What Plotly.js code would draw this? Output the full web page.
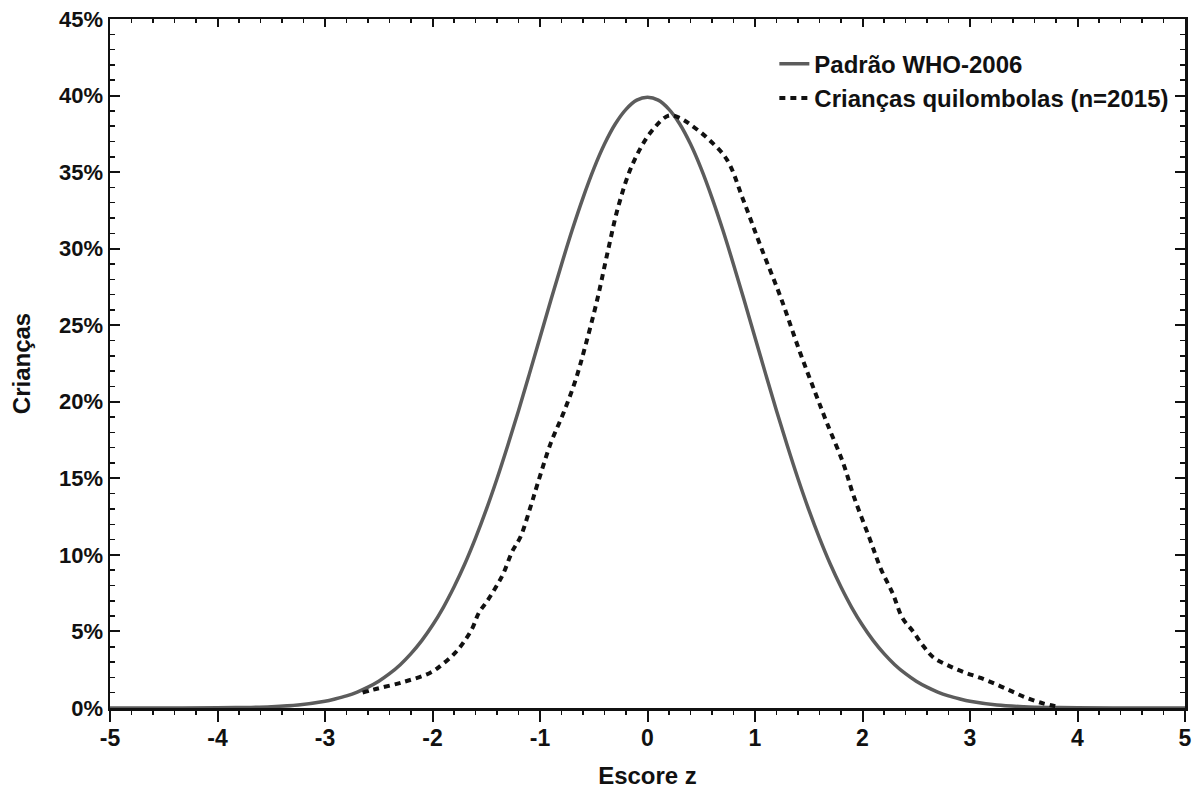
<!DOCTYPE html>
<html>
<head>
<meta charset="utf-8">
<script src="https://cdn.plot.ly/plotly-3.0.1.min.js"></script>
<style>html,body{margin:0;padding:0;background:#fff;}#chart{width:1195px;height:794px;}</style>
</head>
<body>
<div id="chart"></div>
<script>
// WHO-2006 standard curve (z-score vs % of children)
var whoZ = [-5,-4.5,-4,-3.75,-3.5,-3.25,-3,-2.9,-2.8,-2.7,-2.6,-2.5,-2.4,-2.3,-2.2,-2.1,-2,-1.9,-1.8,-1.7,-1.6,-1.5,-1.4,-1.3,-1.2,-1.1,-1,-0.9,-0.8,-0.7,-0.6,-0.5,-0.4,-0.3,-0.2,-0.1,0,0.1,0.2,0.3,0.4,0.5,0.6,0.7,0.8,0.9,1,1.1,1.2,1.3,1.4,1.5,1.6,1.7,1.8,1.9,2,2.1,2.2,2.3,2.4,2.5,2.6,2.7,2.8,2.9,3,3.25,3.5,3.75,4,4.5,5];
var whoPct = [0,0.002,0.013,0.035,0.087,0.20,0.44,0.60,0.79,1.04,1.36,1.75,2.24,2.83,3.55,4.40,5.40,6.56,7.90,9.40,11.09,12.95,14.97,17.14,19.42,21.79,24.20,26.61,28.97,31.23,33.32,35.21,36.83,38.14,39.10,39.70,39.89,39.70,39.10,38.14,36.83,35.21,33.32,31.23,28.97,26.61,24.20,21.79,19.42,17.14,14.97,12.95,11.09,9.40,7.90,6.56,5.40,4.40,3.55,2.83,2.24,1.75,1.36,1.04,0.79,0.60,0.44,0.20,0.087,0.035,0.013,0.002,0];

// Quilombola children curve (n=2015)
var qZ = [-2.65,-2.55,-2.27,-2.02,-1.90,-1.79,-1.71,-1.63,-1.57,-1.49,-1.41,-1.34,-1.26,-1.18,-1.09,-1.02,-0.90,-0.78,-0.67,-0.58,-0.47,-0.37,-0.27,-0.14,0.03,0.20,0.31,0.40,0.56,0.74,0.89,1.05,1.24,1.42,1.56,1.67,1.82,1.92,2.07,2.17,2.28,2.37,2.47,2.56,2.66,2.79,2.94,3.10,3.26,3.40,3.53,3.68,3.84];
var qPct = [1.0,1.2,1.7,2.3,2.9,3.6,4.3,5.2,6.2,7.0,7.9,8.8,10.2,11.2,13.1,14.7,17.3,19.3,21.4,23.6,26.6,29.8,32.8,35.5,37.6,38.7,38.5,38.1,37.2,35.8,33.2,30.2,26.8,23.2,20.6,18.6,16.0,13.8,11.0,9.1,7.5,5.9,5.0,4.1,3.3,2.8,2.35,1.96,1.5,1.05,0.65,0.3,0.05];

var seriesNames = ['Padrão WHO-2006', 'Crianças quilombolas (n=2015)'];
var xTickVals = [-5,-4,-3,-2,-1,0,1,2,3,4,5];
var xTickText = ['-5','-4','-3','-2','-1','0','1','2','3','4','5'];
var xTitle = 'Escore z';
var yTitle = 'Crianças';

var FONT = 'Liberation Sans, Arial, sans-serif';

var traces = [
  {x: whoZ, y: whoPct, name: seriesNames[0], mode: 'lines',
   line: {color: '#5c5c5c', width: 3.5, shape: 'spline', smoothing: 1}},
  {x: qZ, y: qPct, name: seriesNames[1], mode: 'lines',
   line: {color: '#111', width: 4, dash: '6px,5px', shape: 'spline', smoothing: 1}},
  {x: whoZ, y: whoPct, xaxis: 'x2', mode: 'lines', opacity: 0, showlegend: false,
   hoverinfo: 'skip', line: {width: 0.1}}
];

var layout = {
  width: 1195, height: 794,
  margin: {l: 110, r: 10, t: 19, b: 86},
  paper_bgcolor: '#fff', plot_bgcolor: '#fff',
  font: {family: FONT, color: '#111', weight: 'bold'},
  showlegend: true,
  legend: {x: 0.618, y: 0.967, xanchor: 'left', yanchor: 'top',
    bgcolor: 'rgba(0,0,0,0)', borderwidth: 0, tracegroupgap: 0,
    font: {family: FONT, size: 24, color: '#111', weight: 'bold'}},
  xaxis: {
    range: [-5, 5], tickmode: 'array', tickvals: xTickVals, ticktext: xTickText,
    showgrid: false, zeroline: false,
    showline: true, linecolor: '#111', linewidth: 2.5, mirror: true,
    ticks: 'outside', ticklen: 11, tickwidth: 2, tickcolor: '#111', ticklabelstandoff: -3,
    minor: {dtick: 0.2, ticks: 'outside', ticklen: 4, tickwidth: 1.5, tickcolor: '#111'},
    tickfont: {family: FONT, size: 23, color: '#111', weight: 'bold'},
    title: {text: xTitle, standoff: 17, font: {family: FONT, size: 24, color: '#111', weight: 'bold'}}
  },
  xaxis2: {
    overlaying: 'x', side: 'top', range: [-5, 5], dtick: 1, tick0: 0,
    showgrid: false, zeroline: false, showline: false, showticklabels: false,
    ticks: 'inside', ticklen: 8, tickwidth: 2, tickcolor: '#111',
    minor: {dtick: 0.2, ticks: 'inside', ticklen: 4, tickwidth: 1.5, tickcolor: '#111'}
  },
  yaxis: {
    range: [0, 45], dtick: 5, tick0: 0, ticksuffix: '%', showgrid: false, zeroline: false,
    showline: true, linecolor: '#111', linewidth: 2.5, mirror: 'ticks',
    ticks: 'inside', ticklen: 10, tickwidth: 2, tickcolor: '#111',
    minor: {dtick: 1, ticks: 'inside', ticklen: 5, tickwidth: 1.5, tickcolor: '#111'},
    tickfont: {family: FONT, size: 22, color: '#111', weight: 'bold'},
    title: {text: yTitle, standoff: 22, font: {family: FONT, size: 24, color: '#111', weight: 'bold'}}
  }
};

Plotly.newPlot('chart', traces, layout, {displayModeBar: false, staticPlot: true});
</script>
</body>
</html>
